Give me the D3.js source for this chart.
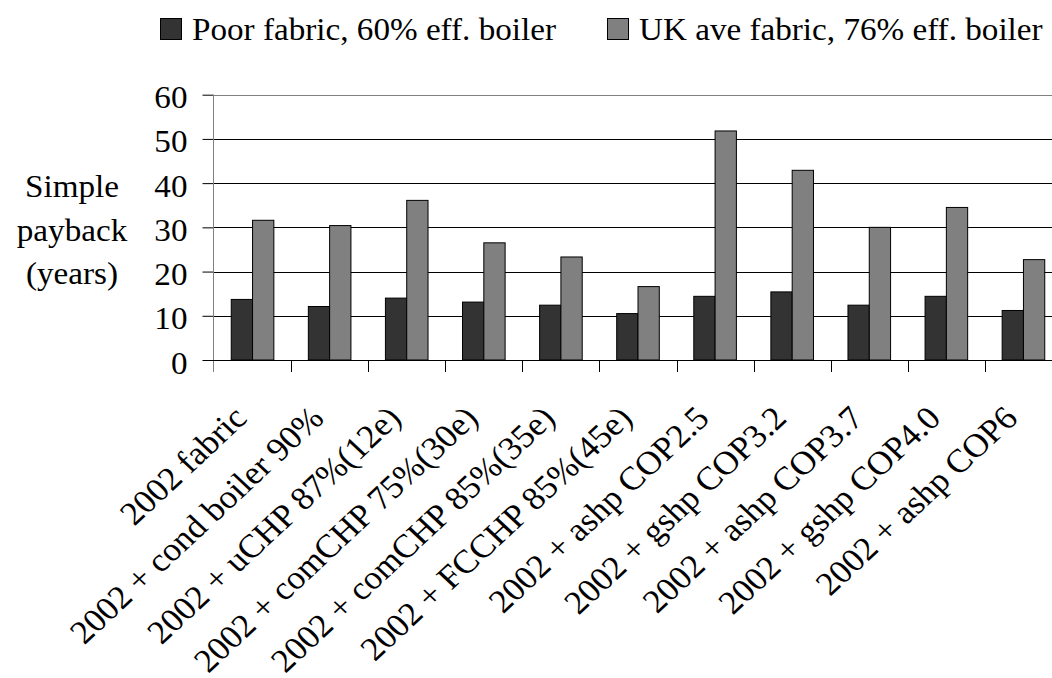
<!DOCTYPE html>
<html>
<head>
<meta charset="utf-8">
<script src="https://cdn.jsdelivr.net/npm/d3@7.9.0/dist/d3.min.js"></script>
<style>
  body { margin: 0; background: #fff; }
  svg { display: block; overflow: hidden; background: #fff; }
  text { font-family: "Liberation Serif", "Times New Roman", serif; fill: #000; }
</style>
</head>
<body>
<svg id="chart" width="1052" height="678"></svg>
<script>
// chart data
const categories = [
  '2002 fabric',
  '2002 + cond boiler 90%',
  '2002 + uCHP 87%(12e)',
  '2002 + comCHP 75%(30e)',
  '2002 + comCHP 85%(35e)',
  '2002 + FCCHP 85%(45e)',
  '2002 + ashp COP2.5',
  '2002 + gshp COP3.2',
  '2002 + ashp COP3.7',
  '2002 + gshp COP4.0',
  '2002 + ashp COP6'
];
const poorFabric = [13.7, 12.1, 14.0, 13.1, 12.4, 10.5, 14.4, 15.4, 12.4, 14.4, 11.2];
const ukAveFabric = [31.6, 30.4, 36.1, 26.5, 23.3, 16.6, 51.8, 42.9, 30.0, 34.5, 22.7];
const seriesNames = ['Poor fabric, 60% eff. boiler', 'UK ave fabric, 76% eff. boiler'];
const seriesColors = ['#333333', '#808080'];
const yTicks = [0, 10, 20, 30, 40, 50, 60];
const yTitle = ['Simple', 'payback', '(years)'];

const series = [poorFabric, ukAveFabric];
const fontSize = 31;
const labelSize = 33;
const stretch = 1.07; // text in the picture is a little wide

const svg = d3.select('#chart');

// scales
const x = d3.scaleBand().domain(categories).range([214, 1062]).padding(0);
const groupW = 42.6;
const xs = d3.scaleBand().domain(d3.range(series.length)).range([0, groupW]);
const y = d3.scaleLinear().domain([0, 60]).range([360, 94.7]);

// gridlines
svg.append('g')
  .selectAll('line')
  .data(yTicks.filter((d) => d > 0))
  .join('line')
  .attr('x1', 213).attr('x2', 1062)
  .attr('y1', (d) => Math.round(y(d)) + 0.5)
  .attr('y2', (d) => Math.round(y(d)) + 0.5)
  .attr('stroke', (d) => (d === 60 ? '#808080' : '#000'))
  .attr('stroke-width', 1);

// bars
const groups = svg.append('g')
  .selectAll('g')
  .data(categories)
  .join('g')
  .attr('transform', (c) => `translate(${x(c) + (x.bandwidth() - groupW) / 2},0)`);

groups.selectAll('rect')
  .data((c, ci) => series.map((s, si) => ({ si, v: s[ci] })))
  .join('rect')
  .attr('x', (d) => xs(d.si))
  .attr('width', xs.bandwidth())
  .attr('y', (d) => y(d.v))
  .attr('height', (d) => y(0) - y(d.v))
  .attr('fill', (d) => seriesColors[d.si])
  .attr('stroke', '#000')
  .attr('stroke-width', 1);

// y axis
const yAxis = svg.append('g')
  .attr('transform', 'translate(213.5,0)')
  .call(d3.axisLeft(y).tickValues(yTicks).tickSize(11).tickPadding(0));
yAxis.select('.domain').remove();
yAxis.selectAll('.tick line').attr('stroke', '#000');
yAxis.selectAll('.tick text')
  .attr('font-size', fontSize)
  .attr('x', 0).attr('dy', null).attr('y', 0)
  .attr('transform', `translate(-26,13) scale(${stretch},1)`)
  .attr('text-anchor', 'end');

svg.append('line')
  .attr('x1', 213.5).attr('x2', 213.5)
  .attr('y1', y(60)).attr('y2', 372)
  .attr('stroke', '#808080');

// x axis line and category boundary ticks
svg.append('line')
  .attr('x1', 213).attr('x2', 1062)
  .attr('y1', y(0) + 0.5).attr('y2', y(0) + 0.5)
  .attr('stroke', '#000');

const bounds = categories.slice(1).map((c) => x(c)).concat([x.range()[1]]);
svg.append('g')
  .selectAll('line')
  .data(bounds)
  .join('line')
  .attr('x1', (d) => Math.round(d) + 0.5).attr('x2', (d) => Math.round(d) + 0.5)
  .attr('y1', y(0)).attr('y2', 372)
  .attr('stroke', '#000');

// rotated category labels
svg.append('g')
  .selectAll('text')
  .data(categories)
  .join('text')
  .attr('font-size', labelSize)
  .attr('text-anchor', 'end')
  .attr('transform', (c) => `translate(${x(c) + x.bandwidth() / 2 - 4},420) scale(${stretch},1) rotate(-45)`)
  .text((c) => c);

// y axis title
svg.append('g')
  .selectAll('text')
  .data(yTitle)
  .join('text')
  .attr('font-size', fontSize)
  .attr('text-anchor', 'middle')
  .attr('transform', (d, i) => `translate(72,${197 + i * 43.5}) scale(${stretch},1)`)
  .text((d) => d);

// legend
const legendX = [160, 607];
const legend = svg.append('g')
  .selectAll('g')
  .data(seriesNames)
  .join('g')
  .attr('transform', (d, i) => `translate(${legendX[i]},18)`);

legend.append('rect')
  .attr('width', 21).attr('height', 21)
  .attr('x', 0.5).attr('y', 0.5)
  .attr('fill', (d, i) => seriesColors[i])
  .attr('stroke', '#000');

legend.append('text')
  .attr('font-size', fontSize)
  .attr('transform', `translate(32,22) scale(${stretch},1)`)
  .text((d) => d);
</script>
</body>
</html>
